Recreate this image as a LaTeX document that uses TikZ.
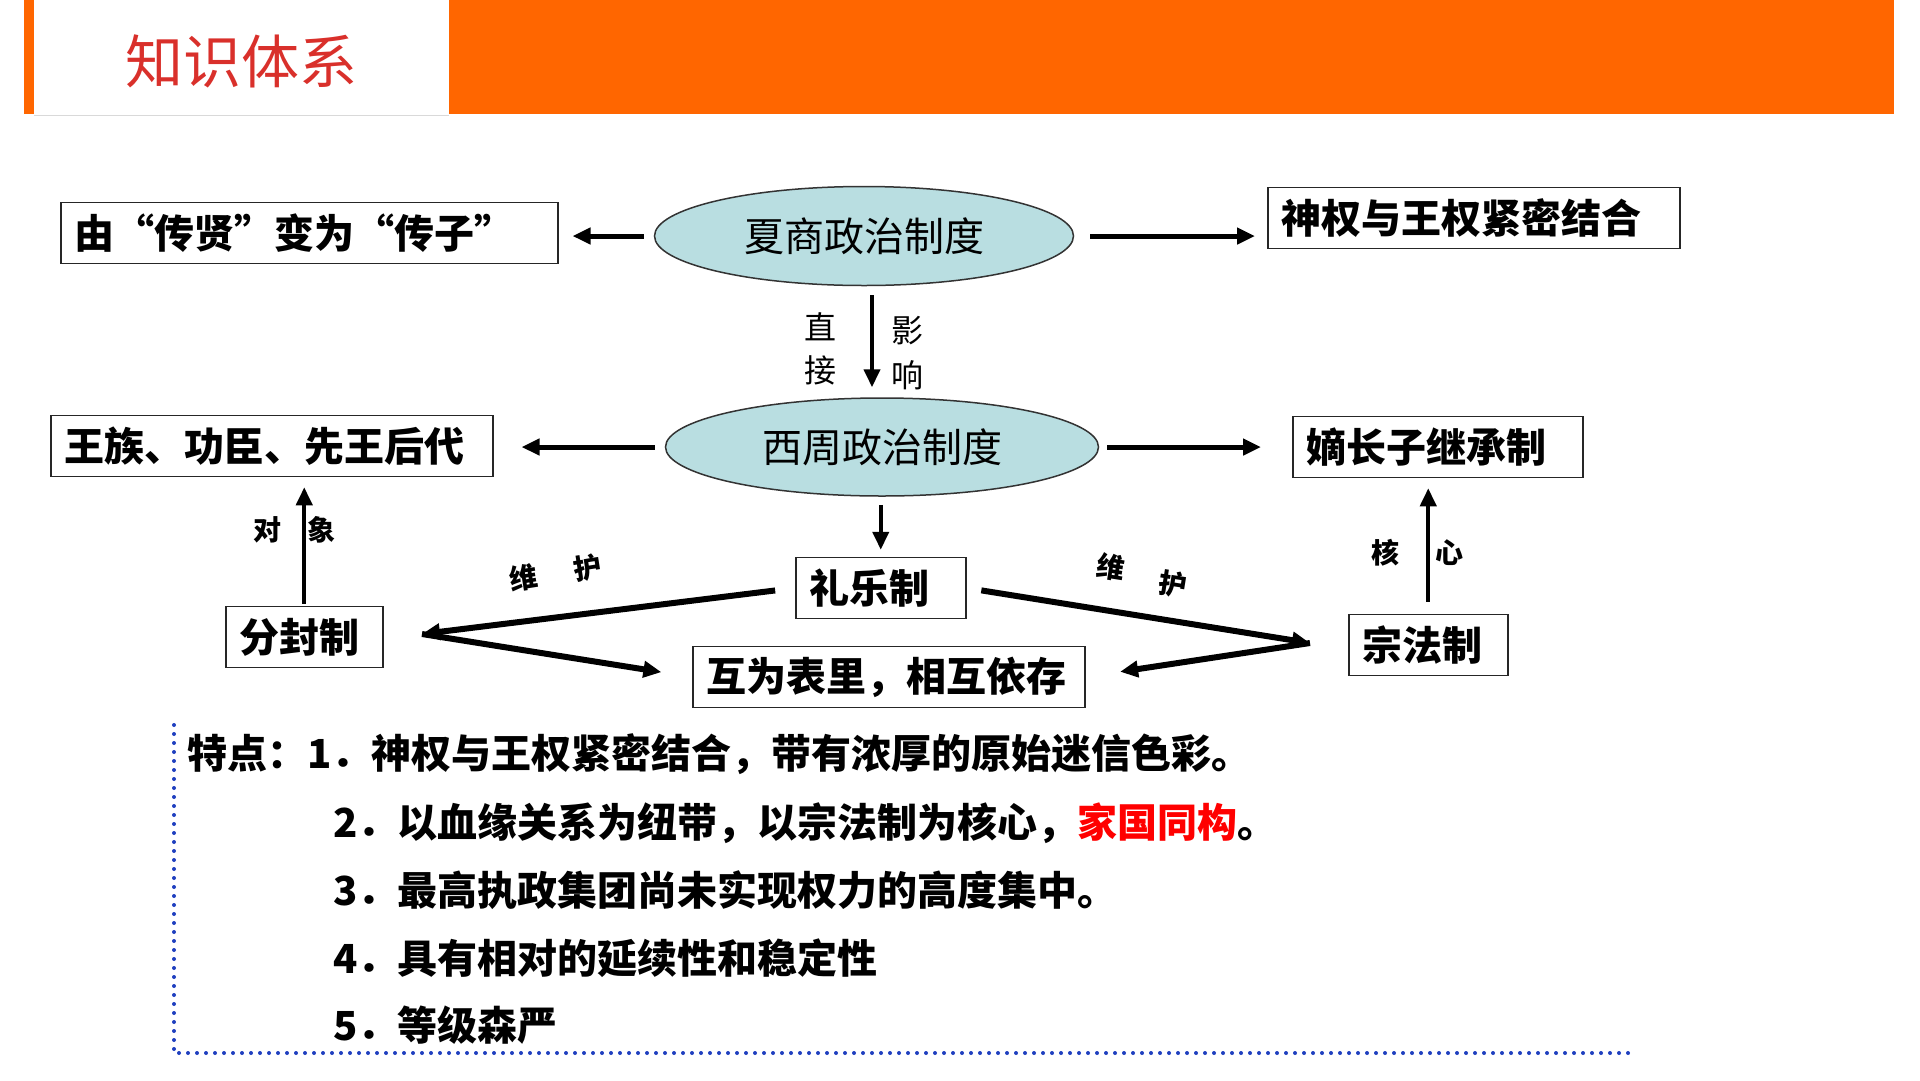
\documentclass[tikz,border=0pt]{standalone}
\usepackage{fontspec}
\newfontfamily\cjk{Noto Sans CJK SC}
\usetikzlibrary{arrows.meta,shapes.geometric,positioning}
\definecolor{hdorange}{HTML}{FF6600}
\definecolor{ttlred}{HTML}{D9302B}
\definecolor{ellfill}{HTML}{B9DEE1}
\definecolor{dotblue}{HTML}{1F3FBF}

\begin{document}
\begin{tikzpicture}[x=1pt,y=-1pt,
    box/.style={draw=black!85, line width=1.5pt, fill=white, inner xsep=14pt, inner ysep=0pt,
        minimum height=61pt, align=left, anchor=west, font=\cjk\bfseries\fontsize{40}{40}\selectfont},
    oval/.style={ellipse, draw=black!80, line width=1.5pt, fill=ellfill, inner sep=0pt,
        font=\cjk\fontsize{40}{40}\selectfont},
    arr/.style={line width=5pt, -{Triangle[length=18pt,width=16pt]}},
    lbl/.style={font=\cjk\bfseries\fontsize{28}{28}\selectfont},
    thinlbl/.style={font=\cjk\fontsize{32}{32}\selectfont},
    pt/.style={font=\cjk\bfseries\fontsize{40}{40}\selectfont, anchor=west, inner sep=0pt}]
    \useasboundingbox (0,0) rectangle (1920,1080);
    \fill[hdorange] (24,0) rectangle (34,114);
    \fill[hdorange] (449,0) rectangle (1894,114);
    \draw[black!15, line width=1pt] (34,115) -- (449,115);
    \node[font=\cjk\fontsize{58}{58}\selectfont, text=ttlred] (title) at (241,61) {知识体系};

    \node[oval, minimum width=419pt, minimum height=99pt] (xs) at (864,236) {夏商政治制度};
    \node[oval, minimum width=433pt, minimum height=98pt] (xz) at (882,447) {西周政治制度};
    \node[box, text width=469pt] (chuan) at (60,233) {由“传贤”变为“传子”};
    \node[box, text width=384pt] (shen) at (1267,218) {神权与王权紧密结合};
    \node[box, text width=414pt] (wz) at (50,446) {王族、功臣、先王后代};
    \node[box, text width=262pt] (dz) at (1292,447) {嫡长子继承制};
    \node[box, text width=142pt] (ly) at (795,588) {礼乐制};
    \node[box, text width=129pt] (ff) at (225,637) {分封制};
    \node[box, text width=131pt] (zf) at (1348,645) {宗法制};
    \node[box, text width=364pt] (hw) at (692,677) {互为表里，相互依存};

    \draw[arr, shorten <=10pt, shorten >=14pt] (xs.west) -- (xs.west -| chuan.east);
    \draw[arr, shorten <=16pt, shorten >=12pt] (xs.east) -- (xs.east -| shen.west);
    \draw[arr, line width=4pt, shorten <=9pt, shorten >=10pt] ([xshift=8pt]xs.south) -- ([xshift=-10pt]xz.north);
    \node[thinlbl] (zhi) at (820,327) {直};
    \node[thinlbl] (jie) at (820,370) {接};
    \node[thinlbl] (ying) at (907,331) {影};
    \node[thinlbl] (xiang) at (907,375) {响};

    \draw[arr, shorten <=10pt, shorten >=28pt] (xz.west) -- (xz.west -| wz.east);
    \draw[arr, shorten <=8pt, shorten >=31pt] (xz.east) -- (xz.east -| dz.west);
    \draw[arr, line width=4pt, shorten <=8pt, shorten >=7pt] (xz.south -| ly.north) -- (ly.north);

    \draw[arr, line width=4pt, shorten <=2pt, shorten >=10pt] (ff.north) -- (ff.north |- wz.south);
    \node[lbl] (dui) at (267,530) {对};
    \node[lbl] (xiangb) at (321,530) {象};
    \draw[arr, line width=4pt, shorten <=12pt, shorten >=10pt] (zf.north) -- (zf.north |- dz.south);
    \node[lbl] (he) at (1385,553) {核};
    \node[lbl] (xin) at (1449,553) {心};

    \coordinate (lp) at (422,634);
    \coordinate (rp) at (1310,643);
    \draw[arr, line width=6pt, shorten <=20pt] (ly.west) -- (lp);
    \draw[arr, line width=6pt, shorten >=31pt] (lp) -- (hw.west);
    \draw[arr, line width=6pt, shorten <=15pt] (ly.east) -- (rp);
    \draw[arr, line width=6pt, shorten >=35pt] (rp) -- (hw.east);
    \node[lbl, rotate=9] (wei1) at (524,578) {维};
    \node[lbl, rotate=9] (hu1) at (588,568) {护};
    \node[lbl, rotate=-9] (wei2) at (1111,567) {维};
    \node[lbl, rotate=-9] (hu2) at (1173,584) {护};

    \node[pt] (t1) at (187,754) {特点：1．神权与王权紧密结合，带有浓厚的原始迷信色彩。};
    \node[pt] (t2) at (333,823) {2．以血缘关系为纽带，以宗法制为核心，\textcolor{red}{家国同构}。};
    \node[pt] (t3) at (333,890) {3．最高执政集团尚未实现权力的高度集中。};
    \node[pt] (t4) at (333,958) {4．具有相对的延续性和稳定性};
    \node[pt] (t5) at (333,1025) {5．等级森严};
    \draw[dotblue, line width=4pt, line cap=round, dash pattern=on 0pt off 9pt] (174,725) -- (174,1053) -- (1631,1053);
\end{tikzpicture}
\end{document}
